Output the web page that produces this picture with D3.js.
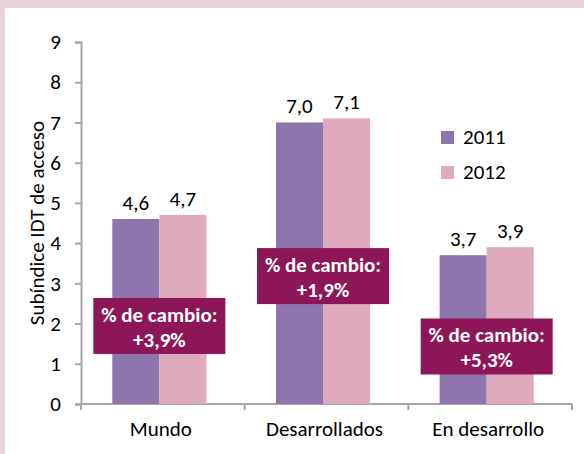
<!DOCTYPE html>
<html>
<head>
<meta charset="utf-8">
<script src="https://cdn.jsdelivr.net/npm/d3@7"></script>
<style>
  html, body { margin: 0; padding: 0; background: #ffffff; }
  svg { display: block; }
  text { font-family: Carlito, Calibri, "Open Sans", sans-serif; }
</style>
</head>
<body>
<svg id="chart" width="584" height="454"></svg>
<script>
// ---- data ----
const categories = ["Mundo", "Desarrollados", "En desarrollo"];
const seriesNames = ["2011", "2012"];
const values2011 = [4.6, 7.0, 3.7];
const values2012 = [4.7, 7.1, 3.9];
const changeLabels = ["+3,9%", "+1,9%", "+5,3%"];
const changeBoxLevel = [1.94, 3.18, 1.43]; // y value where each annotation box is centred
const yTicks = [0, 1, 2, 3, 4, 5, 6, 7, 8, 9];
const yTitle = "Subíndice IDT de acceso";

const colors = { "2011": "#8f75ad", "2012": "#dfaabd" };
const boxColor = "#8d1659";
const fmt = v => d3.format(".1f")(v).replace(".", ",");
const FS = 21;

const svg = d3.select("#chart");
const W = 584, H = 454;

// frame
svg.append("rect").attr("x", 0).attr("y", 0).attr("width", W).attr("height", H).attr("fill", "#e8d2dc");
svg.append("rect").attr("x", 5).attr("y", 8).attr("width", W - 5).attr("height", H - 8).attr("fill", "#ffffff");

const mLeft = 81, mRight = 572, mTop = 42, mBottom = 404;

const y = d3.scaleLinear().domain([0, 9]).range([mBottom, mTop]);
const x0 = d3.scaleBand().domain(categories).range([mLeft, mRight]).paddingInner(0).paddingOuter(0);
const x1 = d3.scaleBand().domain(seriesNames).range([0, x0.bandwidth()]).paddingInner(0).paddingOuter(0.74).align(0.45);

const axisColor = "#a6a6a6";

// y axis
const yAxis = svg.append("g").attr("transform", `translate(${mLeft},0)`)
  .call(d3.axisLeft(y).tickValues(yTicks).tickSize(6).tickPadding(14).tickFormat(d => d));
yAxis.select(".domain").attr("stroke", axisColor).attr("stroke-width", 2);
yAxis.selectAll(".tick line").attr("stroke", axisColor).attr("stroke-width", 2);
yAxis.selectAll(".tick text").attr("font-size", FS).attr("fill", "#000");

// x axis with ticks at category boundaries
const xg = svg.append("g").attr("transform", `translate(0,${mBottom})`);
xg.append("line").attr("x1", mLeft).attr("x2", mRight).attr("y1", 0).attr("y2", 0)
  .attr("stroke", axisColor).attr("stroke-width", 2);
const bounds = categories.map(c => x0(c)).concat([x0(categories[categories.length - 1]) + x0.bandwidth()]);
xg.selectAll("line.tk").data(bounds).join("line").attr("class", "tk")
  .attr("x1", d => d).attr("x2", d => d).attr("y1", 0).attr("y2", 6)
  .attr("stroke", axisColor).attr("stroke-width", 2);
xg.selectAll("text.cat").data(categories).join("text").attr("class", "cat")
  .attr("x", d => x0(d) + x0.bandwidth() / 2 - 2).attr("y", 32)
  .attr("text-anchor", "middle").attr("font-size", FS).attr("fill", "#000").text(d => d);

// bars
const rows = categories.map((c, i) => ({ cat: c, vals: [
  { s: "2011", v: values2011[i] }, { s: "2012", v: values2012[i] } ] }));

const groups = svg.selectAll("g.grp").data(rows).join("g").attr("class", "grp")
  .attr("transform", d => `translate(${x0(d.cat)},0)`);
groups.selectAll("rect").data(d => d.vals).join("rect")
  .attr("x", d => x1(d.s)).attr("width", x1.bandwidth())
  .attr("y", d => y(d.v)).attr("height", d => mBottom - y(d.v))
  .attr("fill", d => colors[d.s]);
groups.selectAll("text.val").data(d => d.vals).join("text").attr("class", "val")
  .attr("x", d => x1(d.s) + x1.bandwidth() / 2).attr("y", d => y(d.v) - 9)
  .attr("text-anchor", "middle").attr("font-size", FS).attr("fill", "#000").text(d => fmt(d.v));

// annotation boxes
const boxW = 132, boxH = 56;
rows.forEach((r, i) => {
  const cx = x0(r.cat) + x1(seriesNames[1]);
  const cy = y(changeBoxLevel[i]);
  const g = svg.append("g");
  g.append("rect").attr("x", cx - boxW / 2).attr("y", cy - boxH / 2).attr("width", boxW).attr("height", boxH)
    .attr("fill", boxColor);
  g.append("text").attr("x", cx).attr("y", cy - 4).attr("text-anchor", "middle")
    .attr("font-size", FS).attr("font-weight", "bold").attr("fill", "#fff").text("% de cambio:");
  g.append("text").attr("x", cx).attr("y", cy + 21).attr("text-anchor", "middle")
    .attr("font-size", FS).attr("font-weight", "bold").attr("fill", "#fff").text(changeLabels[i]);
});

// legend
const legend = svg.append("g").attr("transform", "translate(441,131)");
seriesNames.forEach((s, i) => {
  legend.append("rect").attr("x", 0).attr("y", i * 35).attr("width", 13).attr("height", 13).attr("fill", colors[s]);
  legend.append("text").attr("x", 22).attr("y", i * 35 + 13).attr("font-size", FS).attr("fill", "#000").text(s);
});

// y title
svg.append("text").attr("transform", `translate(44,${(mTop + mBottom) / 2}) rotate(-90)`)
  .attr("text-anchor", "middle").attr("font-size", FS).attr("fill", "#000").text(yTitle);
</script>
</body>
</html>
